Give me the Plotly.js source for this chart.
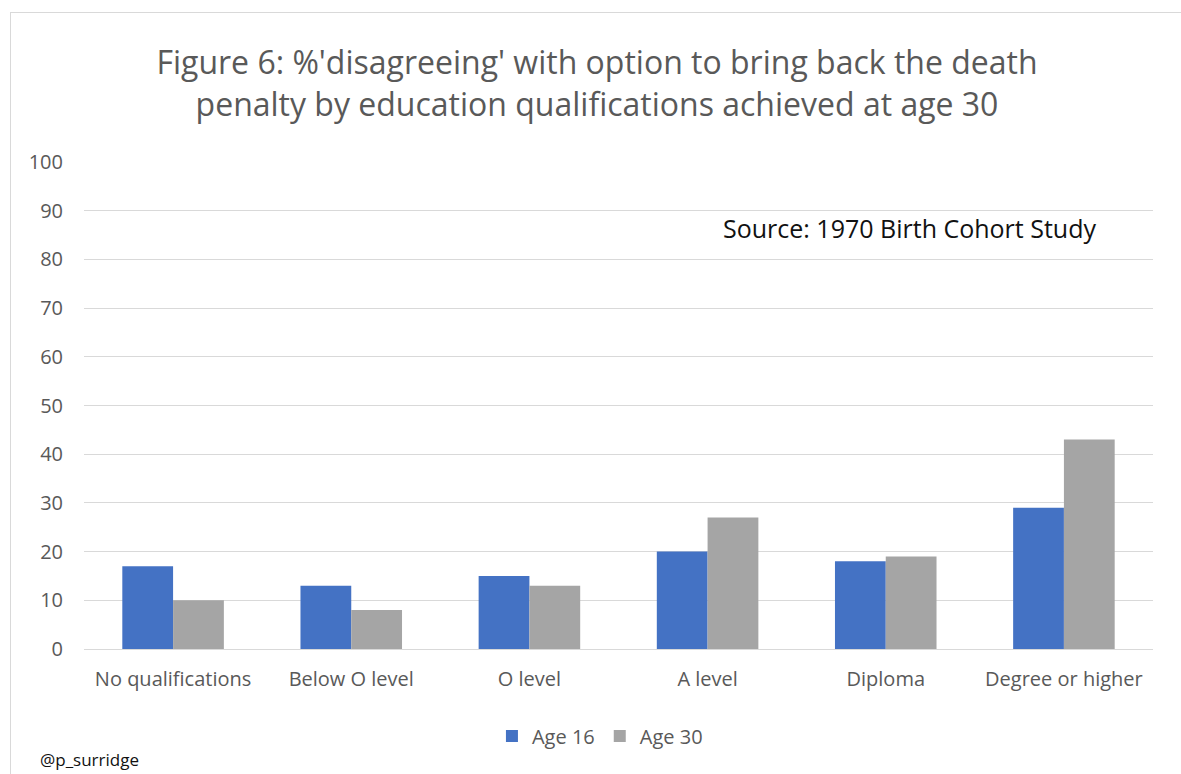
<!DOCTYPE html>
<html>
<head>
<meta charset="utf-8">
<script src="https://cdn.plot.ly/plotly-3.0.1.min.js"></script>
<style>
  html, body { margin: 0; padding: 0; background: #ffffff; }
  #wrap { position: relative; width: 1181px; height: 774px; }
  #chart { width: 1181px; height: 774px; }
  #frame { position: absolute; left: 10px; top: 12px; width: 1200px; height: 800px;
           border-left: 1px solid #d9d9d9; border-top: 1px solid #d9d9d9; pointer-events: none; }
</style>
</head>
<body>
<div id="wrap">
  <div id="chart"></div>
  <div id="frame"></div>
</div>
<script>
// Education level reached by age 30
const categories = ['No qualifications', 'Below O level', 'O level', 'A level', 'Diploma', 'Degree or higher'];
// % disagreeing with bringing back the death penalty
const age16 = [17, 13, 15, 20, 18, 29];
const age30 = [10, 8, 13, 27, 19, 43];
const yTicks = [0, 10, 20, 30, 40, 50, 60, 70, 80, 90, 100];

const labelFont = { family: 'Open Sans, sans-serif', size: 20, color: '#595959' };

const traces = [
  { type: 'bar', name: 'Age 16', x: categories, y: age16, marker: { color: '#4472C4' }, hoverinfo: 'y' },
  { type: 'bar', name: 'Age 30', x: categories, y: age30, marker: { color: '#A5A5A5' }, hoverinfo: 'y' }
];

// plot area spans x 84..1153, y 162..649 (px)
const plotL = 84, plotR = 1153, plotT = 162, plotB = 649;
const pw = plotR - plotL, ph = plotB - plotT;

const layout = {
  width: 1181, height: 774,
  paper_bgcolor: '#ffffff', plot_bgcolor: '#ffffff',
  margin: { l: plotL, r: 1181 - plotR, t: plotT, b: 774 - plotB },
  barmode: 'group', bargap: 0.43, bargroupgap: 0,
  title: {
    text: "Figure 6: %'disagreeing' with option to bring back the death<br>penalty by education qualifications achieved at age 30",
    font: { family: 'Open Sans, sans-serif', size: 32, color: '#595959' },
    xref: 'container', x: 0.5055, xanchor: 'center',
    yref: 'container', y: 1 - 74 / 774, yanchor: 'middle'
  },
  xaxis: {
    type: 'category', tickfont: labelFont, showgrid: false, showline: false,
    ticks: '', ticklabelstandoff: 16
  },
  yaxis: {
    range: [0, 100], tickvals: yTicks, tickfont: labelFont,
    showgrid: true, gridcolor: '#d9d9d9', gridwidth: 1,
    zeroline: true, zerolinecolor: '#d9d9d9', zerolinewidth: 1,
    showline: false, ticks: '', ticklabelstandoff: 20
  },
  showlegend: true,
  legend: {
    orientation: 'h', xref: 'container', yref: 'container',
    x: 0.508, xanchor: 'center', y: 1 - 736 / 774, yanchor: 'middle',
    font: labelFont, itemwidth: 30, traceorder: 'normal'
  },
  annotations: [
    { text: 'Source: 1970 Birth Cohort Study', xref: 'paper', yref: 'paper',
      x: (1098 - plotL) / pw, xanchor: 'right', y: (plotB - 228) / ph, yanchor: 'middle',
      showarrow: false, font: { family: 'Open Sans, sans-serif', size: 25, color: '#111111' } },
    { text: '@p_surridge', xref: 'paper', yref: 'paper',
      x: (38 - plotL) / pw, xanchor: 'left', y: (plotB - 759) / ph, yanchor: 'middle',
      showarrow: false, font: { family: 'Open Sans, sans-serif', size: 17, color: '#111111' } }
  ]
};

Plotly.newPlot('chart', traces, layout, { displayModeBar: false, staticPlot: true });
</script>
</body>
</html>
